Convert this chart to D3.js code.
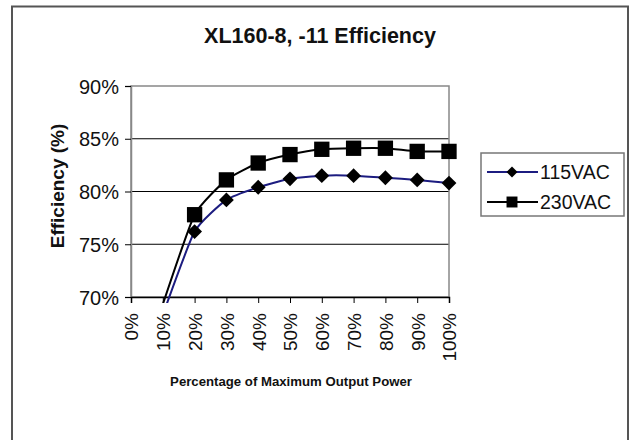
<!DOCTYPE html>
<html>
<head>
<meta charset="utf-8">
<script src="https://cdn.jsdelivr.net/npm/d3@7"></script>
<style>
  body { margin: 0; background: #fff; }
  text { font-family: "Liberation Sans", Arial, sans-serif; fill: #111; }
</style>
</head>
<body>
<script>
// chart data
var categories = ["0%", "10%", "20%", "30%", "40%", "50%", "60%", "70%", "80%", "90%", "100%"];
var vac115 = [null, 68.3, 76.2, 79.2, 80.4, 81.2, 81.5, 81.5, 81.3, 81.1, 80.8];
var vac230 = [null, 69.3, 77.8, 81.1, 82.7, 83.5, 84.0, 84.1, 84.1, 83.8, 83.8];
var yTicks = [70, 75, 80, 85, 90];
var seriesNames = ["115VAC", "230VAC"];

var W = 635, H = 440;
var svg = d3.select("body").append("svg")
    .attr("width", W)
    .attr("height", H);

// outer frame
svg.append("rect")
    .attr("x", 12).attr("y", 6.5)
    .attr("width", 616).attr("height", 440)
    .attr("fill", "none")
    .attr("stroke", "#555")
    .attr("stroke-width", 2);

var plot = { left: 131, right: 449, top: 86, bottom: 297 };

var x = d3.scalePoint()
    .domain(categories)
    .range([plot.left, plot.right]);
var y = d3.scaleLinear()
    .domain([70, 90])
    .range([plot.bottom, plot.top]);

// title
svg.append("text")
    .attr("x", 320).attr("y", 43)
    .attr("text-anchor", "middle")
    .style("font-size", "21.5px")
    .style("font-weight", "bold")
    .text("XL160-8, -11 Efficiency");

// gridlines
svg.append("g")
    .selectAll("line")
    .data(yTicks.filter(d => d > 70 && d < 90))
    .join("line")
    .attr("x1", plot.left).attr("x2", plot.right)
    .attr("y1", d => y(d)).attr("y2", d => y(d))
    .attr("stroke", "#000")
    .attr("stroke-width", 1);

// plot border
svg.append("rect")
    .attr("x", plot.left).attr("y", plot.top)
    .attr("width", plot.right - plot.left)
    .attr("height", plot.bottom - plot.top)
    .attr("fill", "none")
    .attr("stroke", "#888")
    .attr("stroke-width", 1.5);

// y axis
var yAxis = svg.append("g")
    .attr("transform", "translate(" + plot.left + ",0)")
    .call(d3.axisLeft(y).tickValues(yTicks).tickSize(6).tickFormat(d => d + "%"));
yAxis.select(".domain").attr("stroke", "#888").attr("stroke-width", 1.5);
yAxis.selectAll(".tick line").attr("stroke", "#000");
yAxis.selectAll(".tick text")
    .attr("x", -12)
    .attr("dy", "0.36em")
    .style("font-size", "20px")
    .style("font-family", "'Liberation Sans', Arial, sans-serif")
    .attr("fill", "#111");

// x axis
var xAxis = svg.append("g")
    .attr("transform", "translate(0," + plot.bottom + ")")
    .call(d3.axisBottom(x).tickSize(6));
xAxis.select(".domain").attr("stroke", "#000").attr("stroke-width", 1.5);
xAxis.selectAll(".tick line").attr("stroke", "#000");
xAxis.selectAll(".tick text")
    .attr("transform", "rotate(-90)")
    .attr("text-anchor", "end")
    .attr("x", -16)
    .attr("y", 0)
    .attr("dy", "0.36em")
    .style("font-size", "19px")
    .style("font-family", "'Liberation Sans', Arial, sans-serif")
    .attr("fill", "#111");

// axis titles
svg.append("text")
    .attr("transform", "translate(64,186) rotate(-90)")
    .attr("text-anchor", "middle")
    .style("font-size", "19px")
    .style("font-weight", "bold")
    .text("Efficiency (%)");

svg.append("text")
    .attr("x", 291).attr("y", 386)
    .attr("text-anchor", "middle")
    .style("font-size", "13.2px")
    .style("font-weight", "bold")
    .text("Percentage of Maximum Output Power");

// clip lines near the plot
svg.append("clipPath").attr("id", "clip")
    .append("rect")
    .attr("x", plot.left).attr("y", plot.top - 20)
    .attr("width", plot.right - plot.left + 20)
    .attr("height", plot.bottom - plot.top + 26);

var series = [
    { name: seriesNames[0], values: vac115, color: "#1c1c80", shape: "diamond" },
    { name: seriesNames[1], values: vac230, color: "#000", shape: "square" }
];

var line = d3.line()
    .defined(d => d.v != null)
    .x(d => x(d.c))
    .y(d => y(d.v))
    .curve(d3.curveCardinal.tension(0.5));

var diamond = d3.symbol().type(d3.symbolSquare).size(110)();
var square = d3.symbol().type(d3.symbolSquare).size(235)();

series.forEach(function (s) {
    var pts = categories.map((c, i) => ({ c: c, v: s.values[i] }));
    svg.append("path")
        .datum(pts)
        .attr("clip-path", "url(#clip)")
        .attr("fill", "none")
        .attr("stroke", s.color)
        .attr("stroke-width", 2)
        .attr("d", line);
    svg.append("g")
        .selectAll("path")
        .data(pts.filter(d => d.v != null && d.v >= 70))
        .join("path")
        .attr("d", s.shape === "diamond" ? diamond : square)
        .attr("transform", d => "translate(" + x(d.c) + "," + y(d.v) + ")" + (s.shape === "diamond" ? " rotate(45)" : ""))
        .attr("fill", "#000");
});

// legend
var legend = svg.append("g");
legend.append("rect")
    .attr("x", 481).attr("y", 153)
    .attr("width", 143).attr("height", 63)
    .attr("fill", "#fff")
    .attr("stroke", "#777")
    .attr("stroke-width", 1.5);

var items = legend.selectAll("g.item")
    .data(series)
    .join("g")
    .attr("class", "item")
    .attr("transform", (d, i) => "translate(0," + (172 + i * 30) + ")");
items.append("line")
    .attr("x1", 487).attr("x2", 538)
    .attr("stroke", d => d.color)
    .attr("stroke-width", 2);
items.append("path")
    .attr("d", d => d3.symbol().type(d3.symbolSquare).size(d.shape === "diamond" ? 60 : 120)())
    .attr("transform", d => "translate(512,0)" + (d.shape === "diamond" ? " rotate(45)" : ""))
    .attr("fill", "#000");
items.append("text")
    .attr("x", 540)
    .attr("dy", "0.36em")
    .style("font-size", "19.5px")
    .text(d => d.name);
</script>
</body>
</html>
